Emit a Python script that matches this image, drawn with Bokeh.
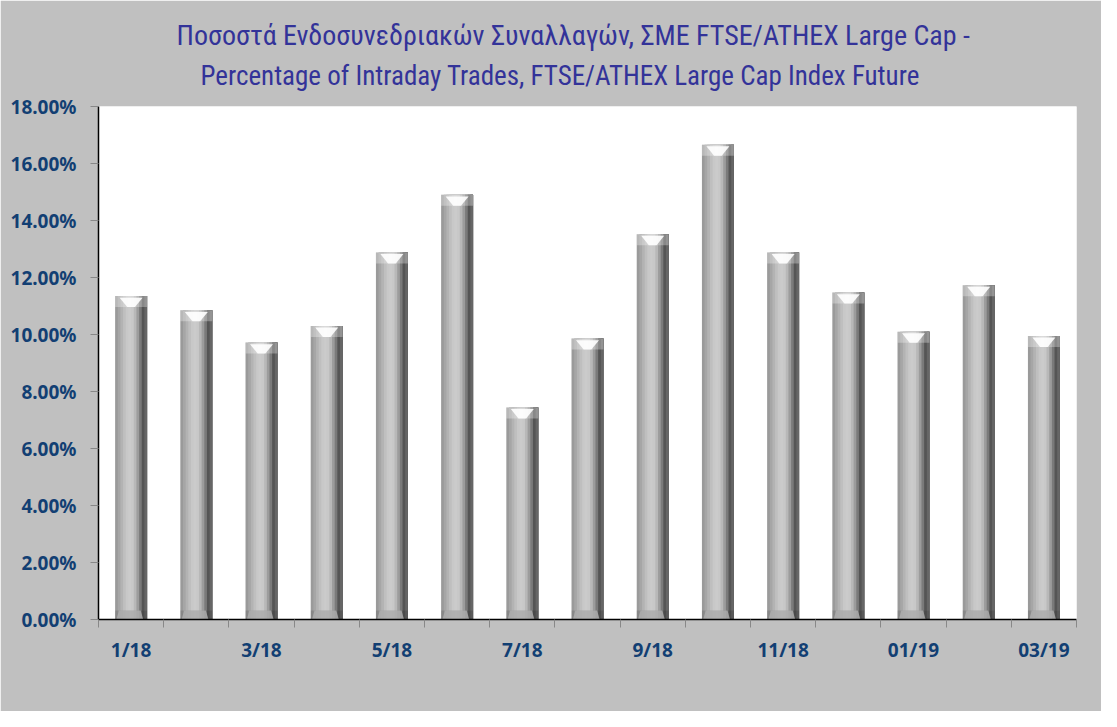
from bokeh.plotting import figure
from bokeh.models import Range1d, FixedTicker, NumeralTickFormatter, Title, ColumnDataSource
from bokeh.transform import dodge
from bokeh.embed import file_html
from bokeh.resources import INLINE

months = ["1/18", "2/18", "3/18", "4/18", "5/18", "6/18", "7/18", "8/18",
          "9/18", "10/18", "11/18", "12/18", "01/19", "02/19", "03/19"]
shown_labels = ["1/18", "3/18", "5/18", "7/18", "9/18", "11/18", "01/19", "03/19"]
values = [0.1135, 0.1085, 0.0972, 0.1030, 0.1288, 0.1490, 0.0744, 0.0986,
          0.1352, 0.1666, 0.1288, 0.1147, 0.1010, 0.1173, 0.0995]
title_line1 = "Ποσοστά Ενδοσυνεδριακών Συναλλαγών, ΣΜΕ FTSE/ATHEX Large Cap -"
title_line2 = "Percentage of Intraday Trades, FTSE/ATHEX Large Cap Index Future"

xs = list(range(len(months)))
W = 0.49
YMAX = 0.18
FRAME_H = 513
cap = YMAX * 11 / FRAME_H
base = YMAX * 9 / FRAME_H

src = ColumnDataSource(dict(
    x=xs, top=values,
    cap_bottom=[v - cap for v in values],
    base_top=[base] * len(values),
))

p = figure(width=1101, height=711, output_backend="svg", toolbar_location=None,
           x_range=Range1d(-0.5, len(months) - 0.5), y_range=Range1d(0, YMAX),
           min_border_left=98, min_border_right=25, min_border_bottom=92,
           min_border_top=106)
p.background_fill_color = "white"
p.border_fill_color = "#c0c0c0"
p.outline_line_color = None
p.xgrid.visible = False
p.ygrid.visible = False

# bar body: stripes from left edge to right edge, each later one narrower
profile = ["#9a9a9a", "#a6a6a6", "#b3b3b3", "#bfbfbf", "#c8c8c8", "#cbcbcb",
           "#c8c8c8", "#b8b8b8", "#9c9c9c", "#7a7a7a", "#555555", "#666666"]
n = len(profile)
for k, col in enumerate(profile):
    left = -W / 2 + k * W / n
    right = W / 2
    p.vbar(x=dodge("x", (left + right) / 2), top="top", bottom=0,
           width=right - left, source=src, fill_color=col, line_color=None)

# top bevel and bottom bevel
p.vbar(x="x", top="top", bottom="cap_bottom", width=W, source=src,
       fill_color="white", fill_alpha=0.3, line_color=None)
p.vbar(x="x", top="base_top", bottom=0, width=W, source=src,
       fill_color="black", fill_alpha=0.12, line_color=None)
hx = [[x - 0.36 * W, x + 0.36 * W, x + 0.12 * W, x - 0.12 * W] for x in xs]
hy = [[v - 0.15 * cap, v - 0.15 * cap, v - cap, v - cap] for v in values]
p.patches(hx, hy, fill_color="white", fill_alpha=0.9, line_color=None)
bx = [[x - 0.46 * W, x + 0.38 * W, x + 0.30 * W, x - 0.38 * W] for x in xs]
by = [[0, 0, base, base] for _ in xs]
p.patches(bx, by, fill_color="#b0b0b0", fill_alpha=0.8, line_color=None)

label_color = "#123f73"
font = "Noto Sans"

# y axis
p.yaxis.ticker = FixedTicker(ticks=[i * 0.02 for i in range(10)])
p.yaxis.formatter = NumeralTickFormatter(format="0.00%")
p.yaxis.axis_line_color = "black"
p.yaxis.axis_line_width = 1.5
p.yaxis.major_tick_line_color = "#888888"
p.yaxis.major_tick_out = 8
p.yaxis.major_tick_in = 0
p.yaxis.minor_tick_line_color = None
p.yaxis.major_label_standoff = 14
p.yaxis.major_label_text_font = font
p.yaxis.major_label_text_font_size = "19px"
p.yaxis.major_label_text_font_style = "bold"
p.yaxis.major_label_text_color = label_color

# x axis: labels at every other month, tick marks between months
label_pos = [xs[months.index(m)] for m in shown_labels]
p.xaxis.ticker = FixedTicker(ticks=label_pos,
                             minor_ticks=[x - 0.5 for x in xs] + [xs[-1] + 0.5])
p.xaxis.major_label_overrides = {xs[months.index(m)]: m for m in shown_labels}
p.xaxis.axis_line_color = "black"
p.xaxis.axis_line_width = 1.5
p.xaxis.major_tick_line_color = None
p.xaxis.major_tick_out = 0
p.xaxis.major_tick_in = 0
p.xaxis.minor_tick_line_color = "#888888"
p.xaxis.minor_tick_out = 8
p.xaxis.minor_tick_in = 0
p.xaxis.major_label_standoff = 9
p.xaxis.major_label_text_font = font
p.xaxis.major_label_text_font_size = "19px"
p.xaxis.major_label_text_font_style = "bold"
p.xaxis.major_label_text_color = label_color

tfont = "Liberation Sans Narrow, Roboto Condensed, Arial Narrow, sans-serif"
t2 = Title(text=title_line2, align="left", text_font=tfont,
           text_font_size="27px", text_font_style="normal", text_color="#333399",
           offset=102, standoff=29)
t1 = Title(text=title_line1, align="left", text_font=tfont,
           text_font_size="28px", text_font_style="normal", text_color="#333399",
           offset=78, standoff=-16)
p.add_layout(t2, "above")
p.add_layout(t1, "above")

open("out.html", "w").write(file_html(p, INLINE))
